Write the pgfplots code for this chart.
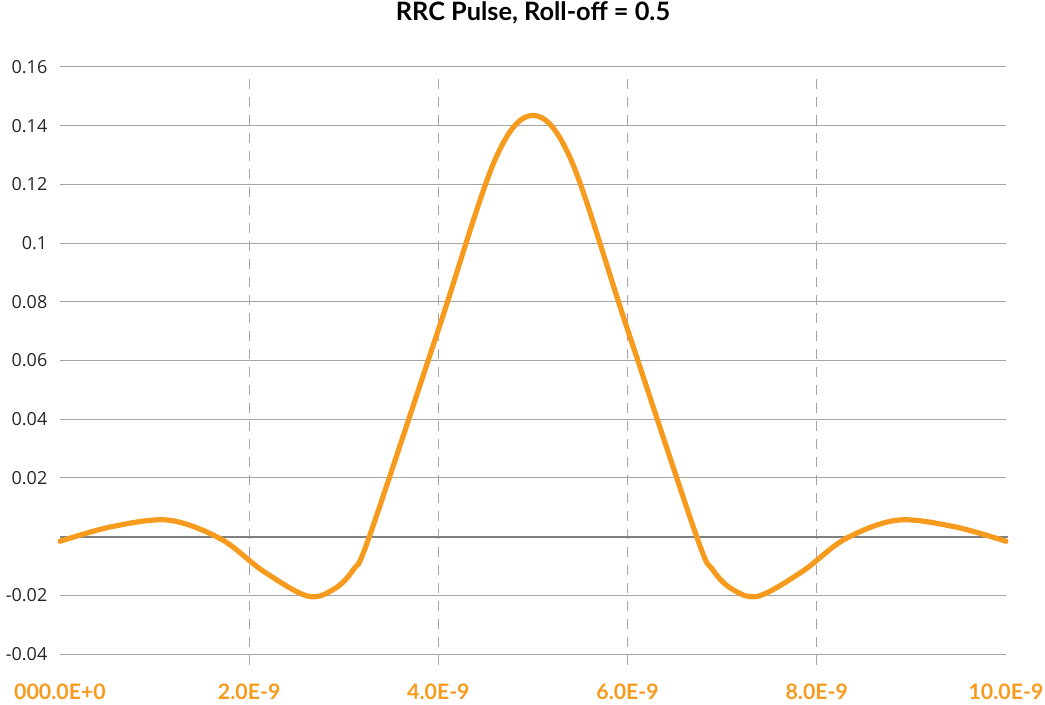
\documentclass[border=0pt]{standalone}
\usepackage{fontspec}
\setmainfont{Lato}
\newfontfamily\yfont{Open Sans}
\usepackage{pgfplots}
\pgfplotsset{compat=1.18}
\definecolor{rrc}{RGB}{247,155,30}
\definecolor{gridc}{RGB}{165,165,165}
\definecolor{zeroc}{RGB}{128,128,128}
\begin{document}
\begin{tikzpicture}
\begin{axis}[
  at={(0pt,0pt)}, anchor=south west,
  scale only axis, width=709.5pt, height=440.25pt,
  xmin=0, xmax=10, ymin=-0.04, ymax=0.16,
  axis line style={draw=none},
  major tick length=0pt,
  tick style={draw=none},
  xtick={0,2,4,6,8,10},
  xticklabels={000.0E+0,2.0E-9,4.0E-9,6.0E-9,8.0E-9,10.0E-9},
  ytick={-0.04,-0.02,0,0.02,0.04,0.06,0.08,0.1,0.12,0.14,0.16},
  yticklabels={-0.04,-0.02,,0.02,0.04,0.06,0.08,0.1,0.12,0.14,0.16},
  ymajorgrids,
  major grid style={gridc, line width=0.75pt},
  xticklabel style={font=\bfseries\fontsize{16}{18}\selectfont, text=rrc, yshift=-19pt},
  yticklabel style={font=\yfont\fontsize{13.5}{16}\selectfont, text=black!85, xshift=-6pt},
  title={RRC Pulse, Roll-off = 0.5},
  title style={font=\bfseries\fontsize{19}{22}\selectfont, at={(0.5,1)}, anchor=base, yshift=29pt},
  clip=false,
]
\draw[gridc, line width=0.75pt, dash pattern=on 7.5pt off 6pt] (axis cs:2,-0.0437) -- (axis cs:2,0.1563);
\draw[gridc, line width=0.75pt, dash pattern=on 7.5pt off 6pt] (axis cs:4,-0.0437) -- (axis cs:4,0.1563);
\draw[gridc, line width=0.75pt, dash pattern=on 7.5pt off 6pt] (axis cs:6,-0.0437) -- (axis cs:6,0.1563);
\draw[gridc, line width=0.75pt, dash pattern=on 7.5pt off 6pt] (axis cs:8,-0.0437) -- (axis cs:8,0.1563);
\addplot[zeroc, line width=1.5pt, forget plot] coordinates {(0,0) (10.02,0)};
\addplot[rrc, line width=3.9pt, smooth, tension=0.55, line cap=round] coordinates {
(0,-0.0016) (0.55,0.0034) (1.15,0.0056) (1.7,-0.0008) (2.15,-0.0118) (2.62,-0.0203)
(2.9,-0.0178) (3.1,-0.0113) (3.27,0.0) (4.0,0.0705) (4.6,0.1285) (5.0,0.1435) (5.4,0.1285)
(6.0,0.0705) (6.73,0.0) (6.9,-0.0113) (7.1,-0.0178) (7.38,-0.0203) (7.85,-0.0118) (8.3,-0.0008)
(8.85,0.0056) (9.45,0.0034) (10,-0.0016)};
\end{axis}
\pgfresetboundingbox
\path (-45pt,-37.5pt) rectangle (738.75pt,490.5pt);
\end{tikzpicture}
\end{document}
